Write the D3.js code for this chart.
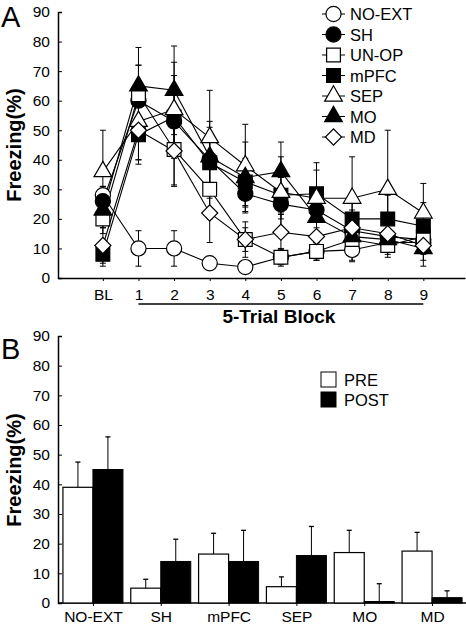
<!DOCTYPE html>
<html><head><meta charset="utf-8">
<script src="https://cdn.jsdelivr.net/npm/d3@7"></script>
<style>
body{margin:0;background:#fff}
svg{display:block}
text{font-family:"Liberation Sans",Arial,Helvetica,sans-serif;fill:#000}
</style>
</head><body>
<svg id="c" width="466" height="626"></svg>
<script>
// ---------- Panel A data ----------
const blocks = ["BL","1","2","3","4","5","6","7","8","9"];
const seriesNames = ["NO-EXT","SH","UN-OP","mPFC","SEP","MO","MD"];
const noExt = [28, 10, 10, 5, 3.7, 7, 9, 9.5, 12, 12];
const sh    = [26, 60, 53, 40, 28.5, 25, 23, 16, 14, 13];
const unOp  = [20, 62, 43.5, 30, 13, 7, 9, 13, 11, 14];
const mPFC  = [8, 48.5, 54.5, 39, 32.5, 28, 28.5, 20, 20, 17.5];
const sep   = [36, 53, 57, 47.5, 38, 29, 27, 27, 30, 22];
const mo    = [23, 65, 63.5, 41, 34, 36, 20.5, 14, 13, 10];
const md    = [11, 50, 43, 22, 13, 15.5, 14, 17, 15, 11];
const noExtErr = [3, 6, 6, 1, 1, 2, 3, 4, 3, 3];
const shErr    = [5, 12, 10, 8, 6, 5, 6, 6, 5, 5];
const unOpErr  = [5, 10, 12, 10, 4, 3, 3, 4, 3, 3];
const mPFCErr  = [4, 10, 14, 12, 8, 6, 8, 8, 8, 8];
const sepErr   = [14, 13, 16, 16, 14, 12, 12, 14, 20, 10];
const moErr    = [6, 13, 15, 12, 12, 10, 10, 8, 6, 6];
const mdErr    = [6, 10, 12, 10, 6, 6, 6, 6, 5, 5];
const yTicks = [0,10,20,30,40,50,60,70,80,90];

// ---------- Panel B data ----------
const groupsB = ["NO-EXT","SH","mPFC","SEP","MO","MD"];
const pre     = [39, 5, 16.5, 5.5, 17, 17.5];
const post    = [45, 14, 14, 16, 0.5, 1.8];
const preErr  = [8.5, 3, 7, 3.3, 7.5, 6.3];
const postErr = [11, 7.5, 10.5, 9.8, 6, 2.3];

const svg = d3.select("#c");

const series = [
  {name:"NO-EXT", v:noExt, e:noExtErr, shape:"circle",  fill:"#fff"},
  {name:"SH",     v:sh,    e:shErr,    shape:"circle",  fill:"#000"},
  {name:"UN-OP",  v:unOp,  e:unOpErr,  shape:"square",  fill:"#fff"},
  {name:"mPFC",   v:mPFC,  e:mPFCErr,  shape:"square",  fill:"#000"},
  {name:"SEP",    v:sep,   e:sepErr,   shape:"triangle",fill:"#fff"},
  {name:"MO",     v:mo,    e:moErr,    shape:"triangle",fill:"#000"},
  {name:"MD",     v:md,    e:mdErr,    shape:"diamond", fill:"#fff"}
];

function markerPath(shape){
  if(shape==="circle") return d3.symbol(d3.symbolCircle, 180)();
  if(shape==="square") return d3.symbol(d3.symbolSquare, 190)();
  if(shape==="triangle") return d3.symbol(d3.symbolTriangle, 135)();
  if(shape==="diamond") return d3.symbol(d3.symbolSquare, 130)();
}
function markerRot(shape){ return shape==="diamond" ? " rotate(45)" : ""; }

function styleAxis(g){
  g.select(".domain").attr("stroke","#000").attr("stroke-width",1.5);
  g.selectAll(".tick line").attr("stroke","#000");
  g.selectAll("text").style("font-size","15.5px").attr("fill","#000");
}

// ---------- Panel A ----------
const xA = d3.scaleLinear().domain([-1.26, 10.17]).range([58, 465]);
const yA = d3.scaleLinear().domain([0, 90]).range([278, 12]);

const gA = svg.append("g");
gA.append("g").attr("transform","translate(58,0)")
  .call(d3.axisLeft(yA).tickValues(yTicks).tickSize(-4).tickPadding(8))
  .call(styleAxis);
gA.append("g").attr("transform","translate(0,278)")
  .call(d3.axisBottom(xA).tickValues(d3.range(blocks.length)).tickFormat(i=>blocks[i]).tickSize(3).tickPadding(8).tickSizeOuter(0))
  .call(styleAxis);
gA.append("line").attr("x1",xA(1)).attr("x2",xA(9)).attr("y1",304).attr("y2",304).attr("stroke","#000").attr("stroke-width",1.5);
gA.append("text").attr("x",(xA(1)+xA(9))/2 - 2).attr("y",323).attr("text-anchor","middle")
  .style("font-size","19px").style("font-weight","bold").text("5-Trial Block");
gA.append("text").attr("transform","translate(21,145) rotate(-90)").attr("text-anchor","middle")
  .style("font-size","20px").style("font-weight","bold").text("Freezing(%)");
gA.append("text").attr("x",1).attr("y",27).style("font-size","29px").text("A");

const line = d3.line().x((d,i)=>xA(i)).y(d=>yA(d));
series.forEach(s=>{
  const g = gA.append("g");
  s.v.forEach((v,i)=>{
    const x = xA(i), lo = yA(Math.max(0,v - s.e[i])), hi = yA(v + s.e[i]);
    g.append("line").attr("x1",x).attr("x2",x).attr("y1",lo).attr("y2",hi).attr("stroke","#000").attr("stroke-width",1);
    g.append("line").attr("x1",x-3).attr("x2",x+3).attr("y1",hi).attr("y2",hi).attr("stroke","#000").attr("stroke-width",1);
    g.append("line").attr("x1",x-3).attr("x2",x+3).attr("y1",lo).attr("y2",lo).attr("stroke","#000").attr("stroke-width",1);
  });
  g.append("path").attr("d",line(s.v)).attr("fill","none").attr("stroke","#000").attr("stroke-width",1.1);
});
series.forEach(s=>{
  gA.append("g").selectAll("path").data(s.v).join("path")
    .attr("d",markerPath(s.shape))
    .attr("transform",(d,i)=>`translate(${xA(i)},${yA(d)})${markerRot(s.shape)}`)
    .attr("fill",s.fill).attr("stroke","#000").attr("stroke-width",1.2);
});
const legA = gA.append("g");
series.forEach((s,k)=>{
  const y = 14 + k*20.5;
  legA.append("line").attr("x1",322).attr("x2",345).attr("y1",y).attr("y2",y).attr("stroke","#000");
  legA.append("path").attr("d",markerPath(s.shape)).attr("transform",`translate(333.5,${y})${markerRot(s.shape)}`)
    .attr("fill",s.fill).attr("stroke","#000").attr("stroke-width",1.2);
  legA.append("text").attr("x",350).attr("y",y+6).style("font-size","16.5px").text(s.name);
});

// ---------- Panel B ----------
const xB = d3.scalePoint().domain(groupsB).range([58, 467]).padding(0.515);
const yB = d3.scaleLinear().domain([0, 90]).range([603, 336]);
const bw = 30;
const gB = svg.append("g");
gB.append("g").attr("transform","translate(58,0)")
  .call(d3.axisLeft(yB).tickValues(yTicks).tickSize(-4).tickPadding(8))
  .call(styleAxis);
gB.append("g").attr("transform","translate(0,603)")
  .call(d3.axisBottom(xB).tickSize(3).tickPadding(5).tickSizeOuter(0))
  .call(g=>{styleAxis(g); g.select(".domain").attr("d","M58,0H466");});
gB.append("text").attr("transform","translate(21,470) rotate(-90)").attr("text-anchor","middle")
  .style("font-size","20px").style("font-weight","bold").text("Freezing(%)");
gB.append("text").attr("x",1).attr("y",359).style("font-size","29px").text("B");

groupsB.forEach((gname,i)=>{
  const c = xB(gname);
  gB.append("rect").attr("x",c-bw).attr("y",yB(pre[i])).attr("width",bw).attr("height",yB(0)-yB(pre[i]))
    .attr("fill","#fff").attr("stroke","#000").attr("stroke-width",1.2);
  gB.append("line").attr("x1",c-bw/2).attr("x2",c-bw/2).attr("y1",yB(pre[i])).attr("y2",yB(pre[i]+preErr[i])).attr("stroke","#000");
  gB.append("line").attr("x1",c-bw/2-2.5).attr("x2",c-bw/2+2.5).attr("y1",yB(pre[i]+preErr[i])).attr("y2",yB(pre[i]+preErr[i])).attr("stroke","#000").attr("stroke-width",1.3);
  gB.append("line").attr("x1",c+bw/2).attr("x2",c+bw/2).attr("y1",yB(post[i])).attr("y2",yB(post[i]+postErr[i])).attr("stroke","#000");
  gB.append("line").attr("x1",c+bw/2-2.5).attr("x2",c+bw/2+2.5).attr("y1",yB(post[i]+postErr[i])).attr("y2",yB(post[i]+postErr[i])).attr("stroke","#000").attr("stroke-width",1.3);
  gB.append("rect").attr("x",c).attr("y",yB(post[i])).attr("width",bw).attr("height",yB(0)-yB(post[i]))
    .attr("fill","#000").attr("stroke","#000").attr("stroke-width",1);
});
const legB = gB.append("g");
[["PRE","#fff"],["POST","#000"]].forEach((d,k)=>{
  const y = 372 + k*20;
  legB.append("rect").attr("x",321).attr("y",y).attr("width",15).attr("height",15).attr("fill",d[1]).attr("stroke","#000").attr("stroke-width",1);
  legB.append("text").attr("x",344).attr("y",y+14).style("font-size","16.5px").text(d[0]);
});
</script>
</body></html>
